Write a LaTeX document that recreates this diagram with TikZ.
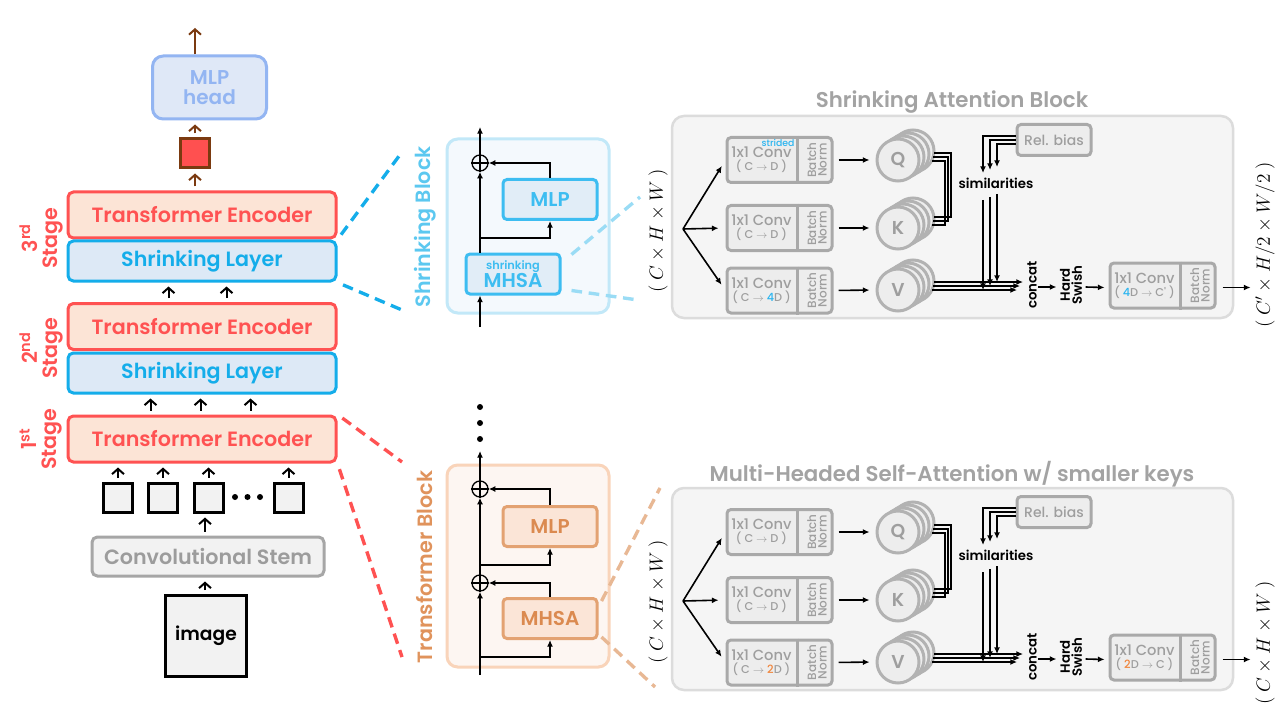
\documentclass[tikz,border=0pt]{standalone}
\usepackage{fontspec}
\setmainfont{Poppins}
\IfFontExistsTF{Poppins Medium}{\newfontfamily\med{Poppins Medium}}{\newfontfamily\med{Poppins}}
\IfFontExistsTF{Poppins SemiBold}{\newfontfamily\semi{Poppins SemiBold}}{\newfontfamily\semi{Poppins}[FakeBold=1.5]}
\usetikzlibrary{arrows.meta,calc}
\definecolor{encR}{HTML}{FF5252}
\definecolor{encF}{HTML}{FCE4D6}
\definecolor{shrB}{HTML}{14ADEA}
\definecolor{shrF}{HTML}{DDE9F6}
\definecolor{headB}{HTML}{93B5F2}
\definecolor{headF}{HTML}{DFE8F7}
\definecolor{brn}{HTML}{7B3A10}
\definecolor{sqR}{HTML}{FF5050}
\definecolor{stemB}{HTML}{A6A6A6}
\definecolor{stemF}{HTML}{F2F2F2}
\definecolor{stemT}{HTML}{9C9C9C}
\definecolor{sbPanF}{HTML}{F4F9FD}
\definecolor{sbPanB}{HTML}{C2E8F8}
\definecolor{sbLab}{HTML}{5CC8F0}
\definecolor{sbBox}{HTML}{3DBDF1}
\definecolor{sbBoxF}{HTML}{E1EDF7}
\definecolor{sbDash}{HTML}{9ADCF5}
\definecolor{tbPanF}{HTML}{FDF6F2}
\definecolor{tbPanB}{HTML}{F9D4BA}
\definecolor{tbLab}{HTML}{E0935C}
\definecolor{tbBox}{HTML}{E3A272}
\definecolor{tbBoxF}{HTML}{FBE5D7}
\definecolor{tbTxt}{HTML}{DB8A50}
\definecolor{tbDash}{HTML}{E8B894}
\definecolor{atF}{HTML}{F5F5F5}
\definecolor{atB}{HTML}{DCDCDC}
\definecolor{cvF}{HTML}{EDEDED}
\definecolor{cvB}{HTML}{A9A9A9}
\definecolor{cvT}{HTML}{9E9E9E}
\definecolor{acC}{HTML}{2BB5F0}
\definecolor{acO}{HTML}{F0853C}
\newcommand\px{0.75pt}

% conv box inner parts: #1 node name, #2 second line
\newcommand\convparts[2]{%
  \draw[cvB, line width=2.5*\px] ($(#1.north west)+(72,0)$) -- ($(#1.south west)+(72,0)$);
  \node[cvtext] (#1txt) at ($(#1.west)+(36,0)$) {1x1 Conv\\[-1pt]{\fontsize{8.5}{9}\selectfont #2}};
  \node[bntext] (#1bn) at ($(#1.east)+(-16.5,0)$) {Batch\\Norm};}
% circle stack: #1 name, #2 x, #3 y, #4 letter
\newcommand\cstack[4]{%
  \foreach \i in {3,2,1}{\node[circ] (#1b\i) at ({#2+5*\i},{#3-3*\i}) {};}
  \node[circ] (#1) at (#2,#3) {#4};}
% attention block: #1 prefix, #2 y shift, #3 title, #4 V conv line, #5 final conv line, #6 output label, #7 label y
\newcommand\attnblock[7]{%
\begin{scope}[shift={(0,#2)}]
  \node[atbox] (#1box) at (952.5,217) {};
  \node[attitle] (#1title) at (952,102) {#3};
  \coordinate (#1fork) at (683,229);
  \node[conv] (#1cq) at (779.5,160) {};
  \node[conv] (#1ck) at (779.5,228) {};
  \node[conv] (#1cv) at (779.5,290.5) {};
  \convparts{#1cq}{( C $\rightarrow$ D )}
  \convparts{#1ck}{( C $\rightarrow$ D )}
  \convparts{#1cv}{#4}
  \draw[tri, shorten >=7*\px] (#1fork) -- (#1cq.west);
  \draw[tri, shorten >=7*\px] (#1fork) -- (#1ck.west);
  \draw[tri, shorten >=7*\px] (#1fork) -- (#1cv.west);
  \cstack{#1q}{898}{160}{Q}
  \cstack{#1k}{898}{228}{K}
  \cstack{#1v}{898}{290}{V}
  \draw[tri, shorten <=5*\px, shorten >=6*\px] (#1cq.east) -- (#1q.west);
  \draw[tri, shorten <=5*\px, shorten >=6*\px] (#1ck.east) -- (#1k.west);
  \draw[tri, shorten <=5*\px, shorten >=6*\px] (#1cv.east) -- (#1v.west);
  \foreach \i in {0,1,2}{\draw[ln] ({934-\i},{153+4*\i}) -| ({951-3*\i},{217+4*\i}) -- ({934-\i},{217+4*\i});}
  \node[rb] (#1rb) at (1054,140) {Rel. bias};
  \foreach \i in {0,1,2}{\draw[tri] (#1rb.west |- 0,{136+4*\i}) -| ({983+7*\i},{173-3*\i});}
  \node[simtxt] (#1sim) at (996,183) {similarities};
  \foreach \i/\e in {0/1023,1/1020,2/1017}{\draw[tri] ({934-\i},{282+4*\i}) -- (\e,{282+4*\i});}
  \foreach \i in {0,1,2}{\draw[tri] ({983+7*\i},{200-3*\i}) -- ({983+7*\i},{290-4*\i});}
  \node[rottxt] (#1cat) at (1032,285) {concat};
  \node[rottxt] (#1hs) at (1071,285) {Hard\\Swish};
  \node[conv] (#1cf) at (1162.5,285.5) {};
  \convparts{#1cf}{#5}
  \draw[tri] ($(#1cat.south)+(0,2)$) -- ($(#1hs.north)+(-2,2)$);
  \draw[tri] ($(#1hs.south)+(2,2)$) -- ($(#1cf.west)+(-4,2)$);
  \draw[tri, shorten <=6*\px] ($(#1cf.east)+(0,2)$) -- ($(#1cf.east)+(34,2)$);
  \node[dimlab] (#1out) at (1265,#7) {#6};
\end{scope}}

\begin{document}
\begin{tikzpicture}[x=0.75pt,y=-0.75pt,
  box/.style={inner sep=0pt, align=center, rounded corners=4pt},
  enc/.style={box, draw=encR, fill=encF, line width=3*\px, minimum width=268*\px, minimum height=46*\px, text=encR, font=\fontsize{15.5}{16}\semi},
  shr/.style={box, draw=shrB, fill=shrF, line width=3*\px, minimum width=268*\px, minimum height=40*\px, text=shrB, font=\fontsize{15.5}{16}\semi},
  head/.style={box, rounded corners=8pt, draw=headB, fill=headF, line width=3*\px, minimum width=114*\px, minimum height=63*\px, text=headB, font=\fontsize{15}{15}\semi},
  redsq/.style={draw=brn, fill=sqR, line width=3*\px, minimum size=29*\px, inner sep=0pt},
  tok/.style={draw=black, fill=stemF, line width=3*\px, minimum size=29*\px, inner sep=0pt},
  stem/.style={box, draw=stemB, fill=stemF, line width=3*\px, minimum width=232*\px, minimum height=39*\px, text=stemT, font=\fontsize{15.5}{16}\semi},
  img/.style={draw=black, fill=stemF, line width=3*\px, minimum size=81*\px, inner sep=0pt, font=\fontsize{14}{15}\semi},
  dot/.style={circle, fill=black, minimum size=6*\px, inner sep=0pt},
  stage/.style={rotate=90, align=center, text=encR, font=\fontsize{15.5}{15}\semi},
  barbK/.style={-{Straight Barb[length=4pt,width=9pt]}, line width=1.5pt, shorten <=3pt, shorten >=3pt},
  barbB/.style={barbK, draw=brn},
  cydash/.style={draw=shrB, line width=2.5pt, dash pattern=on 8pt off 5pt},
  rddash/.style={draw=encR, line width=2.5pt, dash pattern=on 8pt off 5pt},
  sbdash/.style={draw=sbDash, line width=2.5pt, dash pattern=on 8pt off 5pt},
  tbdash/.style={draw=tbDash, line width=2.5pt, dash pattern=on 8pt off 5pt},
  sbpanel/.style={box, rounded corners=8pt, draw=sbPanB, fill=sbPanF, line width=3*\px, minimum width=162*\px, minimum height=174*\px},
  tbpanel/.style={box, rounded corners=8pt, draw=tbPanB, fill=tbPanF, line width=3*\px, minimum width=162*\px, minimum height=202*\px},
  sblab/.style={rotate=90, text=sbLab, font=\fontsize{15.5}{15}\semi},
  tblab/.style={rotate=90, text=tbLab, font=\fontsize{15.5}{15}\semi},
  sbbox/.style={box, rounded corners=3pt, draw=sbBox, fill=sbBoxF, line width=3*\px, minimum width=94*\px, minimum height=40*\px, text=sbBox, font=\fontsize{15}{13}\semi},
  tbbox/.style={box, rounded corners=3pt, draw=tbBox, fill=tbBoxF, line width=3*\px, minimum width=94*\px, minimum height=40*\px, text=tbTxt, font=\fontsize{15}{13}\semi},
  oplus/.style={circle, draw=black, line width=1pt, minimum size=16*\px, inner sep=0pt},
  tri/.style={-{Latex[length=5pt,width=4.5pt]}, line width=1.2pt},
  ln/.style={line width=1.2pt},
  dimlab/.style={rotate=90, font=\fontsize{14}{14}\selectfont},
  atbox/.style={box, rounded corners=9pt, draw=atB, fill=atF, line width=2.5*\px, minimum width=561*\px, minimum height=202*\px},
  attitle/.style={text=cvT!95, font=\fontsize{16}{16}\semi},
  conv/.style={box, rounded corners=3pt, draw=cvB, fill=cvF, line width=3*\px, minimum width=105*\px, minimum height=45*\px},
  cvtext/.style={align=center, inner sep=0pt, text=cvT, font=\fontsize{11}{11}\med},
  bntext/.style={rotate=90, align=center, inner sep=0pt, text=cvT, font=\fontsize{9}{8}\med},
  circ/.style={circle, draw=cvB!90, fill=cvF, line width=3*\px, minimum size=42*\px, inner sep=0pt, text=cvT, font=\fontsize{14}{14}\semi},
  rb/.style={box, rounded corners=3pt, draw=cvB, fill=cvF, line width=3*\px, minimum width=74*\px, minimum height=31*\px, text=cvT, font=\fontsize{10.5}{10}\med},
  simtxt/.style={font=\fontsize{10}{10}\semi},
  rottxt/.style={rotate=90, align=center, inner sep=1pt, font=\fontsize{10}{9}\semi},
]
\useasboundingbox[fill=white] (0,0) rectangle (1280,720);

% ---------------- left column ----------------
\node[head] (mlph) at (209.5,87.5) {MLP\\head};
\node[redsq] (sq) at (195,153.5) {};
\coordinate (out) at (195,28);
\draw[barbB, shorten <=0pt, shorten >=0pt] (out |- mlph.north) -- (out);
\draw[barbB] (sq.north) -- (sq.north |- mlph.south);

\node[enc] (te3) at (202,215) {Transformer Encoder};
\node[shr] (sl3) at (202,261) {Shrinking Layer};
\node[enc] (te2) at (202,326.5) {Transformer Encoder};
\node[shr] (sl2) at (202,373) {Shrinking Layer};
\node[enc] (te1) at (202,439) {Transformer Encoder};
\draw[barbB] (sq.south |- te3.north) -- (sq.south);

\node[stage] (st3) at (41,238) {3\textsuperscript{rd}\\Stage};
\node[stage] (st2) at (41,348) {2\textsuperscript{nd}\\Stage};
\node[stage] (st1) at (41,439) {1\textsuperscript{st}\\Stage};

\foreach \o in {102,160}{\draw[barbK] ($(te2.north west)+(\o,0)$) -- ($(sl3.south west)+(\o,0)$);}
\foreach \o in {84,134,184}{\draw[barbK] ($(te1.north west)+(\o,0)$) -- ($(sl2.south west)+(\o,0)$);}

\node[tok] (t1) at (118,497.5) {};
\node[tok] (t2) at (163,497.5) {};
\node[tok] (t3) at (208.5,497.5) {};
\node[tok] (t4) at (288.5,497.5) {};
\node[dot] (d1) at (235,497) {};
\node[dot] (d2) at (247.5,497) {};
\node[dot] (d3) at (260,497) {};
\foreach \t in {t1,t2,t3,t4}{\draw[barbK] (\t.north) -- (\t.north |- te1.south);}

\node[stem] (stem) at (208,556.5) {Convolutional Stem};
\node[img] (img) at (206,636) {image};
\coordinate (cx) at (205,0);
\draw[barbK] (cx |- img.north) -- (cx |- stem.south);
\draw[barbK] (cx |- stem.north) -- (cx |- t3.south);

% dashed zoom lines
\draw[cydash, shorten <=6*\px] (sl3.north east) -- (402,152);
\draw[cydash, shorten <=6*\px] (sl3.south east) -- (402,310);
\draw[rddash, shorten <=6*\px] (te1.north east) -- (402,462);
\draw[rddash, shorten <=6*\px] (te1.south east) -- (402,657);

% ---------------- shrinking block ----------------
\node[sbpanel] (sbp) at (528,226) {};
\node[sblab] (sbl) at (425,227) {Shrinking Block};
\node[sbbox] (smhsa) at (513,274) {{\fontsize{8.5}{8}\selectfont shrinking}\\MHSA};
\node[sbbox] (smlp) at (550,199.5) {MLP};
\node[oplus] (sop) at (480,163) {};
\draw[line width=1pt] (sop.north) -- (sop.south) (sop.west) -- (sop.east);
\coordinate (sbin) at (480,327);
\coordinate (sbout) at (480,127);
\coordinate (sbbr) at (480,238);
\draw[tri] (sbin) -- (sbin |- smhsa.south);
\draw[tri] (sbin |- smhsa.north) -- (sop.south);
\draw[tri] (sop.north) -- (sbout);
\draw[tri] (sbbr) -| (smlp.south);
\draw[tri] (smlp.north) |- (sop.east);
\draw[sbdash] ($(smhsa.north east)+(10,2)$) -- (640,197);
\draw[sbdash] ($(smhsa.south east)+(10,-5)$) -- (638,300);
\node[dimlab] (sbdim) at (658,231) {$(\ C\times H\times W\ )$};

% ---------------- transformer block ----------------
\node[tbpanel] (tbp) at (528,566) {};
\node[tblab] (tbl) at (425,567) {Transformer Block};
\node[dot] (e1) at (480,407) {};
\node[dot] (e2) at (480,423) {};
\node[dot] (e3) at (480,439) {};
\node[tbbox] (tmlp) at (550,526.5) {MLP};
\node[tbbox] (tmhsa) at (550,618.5) {MHSA};
\node[oplus] (top1) at (480,489) {};
\node[oplus] (top2) at (480,583) {};
\draw[line width=1pt] (top1.north) -- (top1.south) (top1.west) -- (top1.east);
\draw[line width=1pt] (top2.north) -- (top2.south) (top2.west) -- (top2.east);
\coordinate (tbin) at (480,675);
\coordinate (tbout) at (480,451);
\coordinate (tbbr1) at (480,657);
\coordinate (tbbr2) at (480,565);
\draw[tri] (tbin) -- (top2.south);
\draw[tri] (top2.north) -- (top1.south);
\draw[tri] (top1.north) -- (tbout);
\draw[tri] (tbbr1) -| (tmhsa.south);
\draw[tri] (tmhsa.north) |- (top2.east);
\draw[tri] (tbbr2) -| (tmlp.south);
\draw[tri] (tmlp.north) |- (top1.east);
\draw[tbdash] ($(tmhsa.north east)+(3,4)$) -- (660,488);
\draw[tbdash] ($(tmhsa.south east)+(3,-3)$) -- (655,687);
\node[dimlab] (tbdim) at (658,602) {$(\ C\times H\times W\ )$};

% ---------------- attention blocks ----------------
\attnblock{a}{0}{Shrinking Attention Block}{( C $\rightarrow$ \textcolor{acC}{4}D )}{( \textcolor{acC}{4}D $\rightarrow$ C' )}{$(\ C'\times H/2\times W/2\ )$}{245}
\node[text=acC, font=\fontsize{7}{7}\med, inner sep=0pt] (strd) at (778,142.5) {strided};
\attnblock{b}{372}{Multi-Headed Self-Attention w/ smaller keys}{( C $\rightarrow$ \textcolor{acO}{2}D )}{( \textcolor{acO}{2}D $\rightarrow$ C )}{$(\ C\times H\times W\ )$}{271}

\end{tikzpicture}
\end{document}
